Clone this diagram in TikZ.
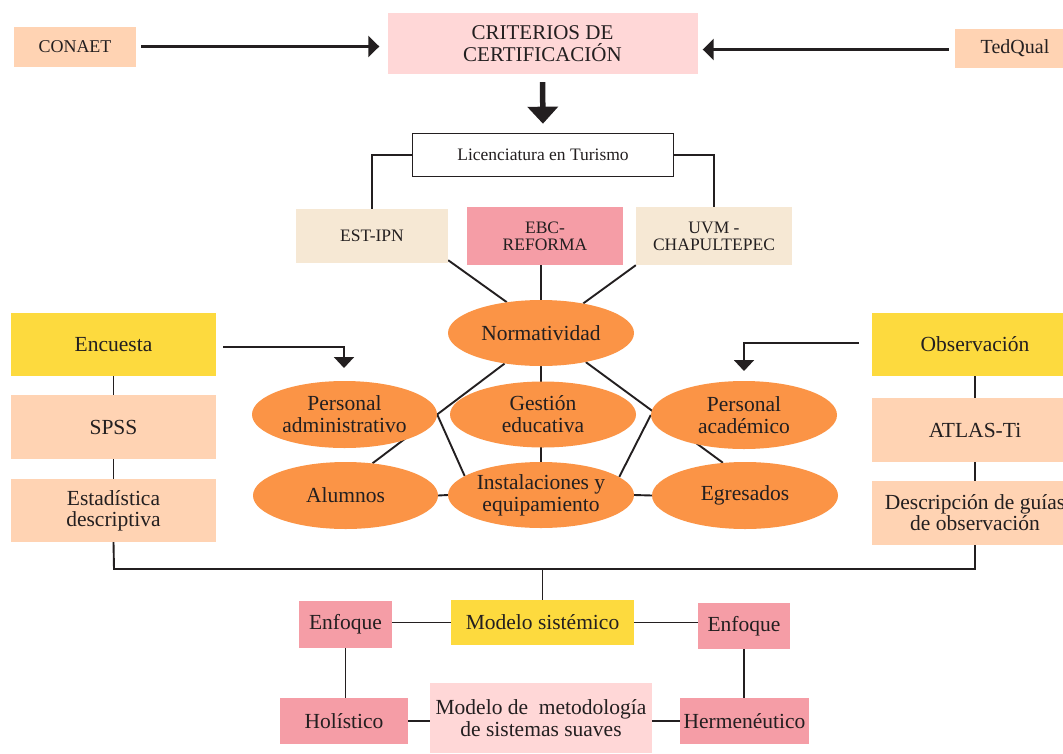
\documentclass[tikz,border=0pt]{standalone}
\usepackage{fontspec}
\setmainfont{Liberation Serif}
\usetikzlibrary{arrows.meta,shapes.geometric}
\pgfdeclarelayer{bg}
\pgfdeclarelayer{paper}
\pgfsetlayers{paper,bg,main}
\definecolor{peach}{HTML}{FFD3B3}
\definecolor{lpink}{HTML}{FFD7D7}
\definecolor{beige}{HTML}{F6E8D4}
\definecolor{pinkbox}{HTML}{F59DA6}
\definecolor{yell}{HTML}{FDDA3E}
\definecolor{orng}{HTML}{FB9446}
\definecolor{ink}{HTML}{231F20}
\newcommand{\myfs}[2]{\fontsize{#1}{#2}\selectfont}
\tikzset{
  pbox/.style={rectangle, inner sep=0pt, align=center, text=ink, draw=none},
  oval/.style={ellipse, fill=orng, inner sep=0pt, align=center, text=ink,
    minimum width=186pt, minimum height=66pt, font=\myfs{21.5}{22}},
  conn/.style={draw=ink, line width=1.9pt},
  bigarrow/.style={draw=ink, line width=3pt, -{Triangle[length=11pt,width=21pt]}},
  downarrow/.style={draw=ink, line width=5.5pt, -{Triangle[length=17pt,width=30pt]}},
  medarrow/.style={draw=ink, line width=2pt, -{Triangle[length=11pt,width=20pt]}},
}
\begin{document}
\begin{tikzpicture}[x=1pt,y=-1pt]
\path[use as bounding box, clip] (0,0) rectangle (1063,753);
\begin{pgfonlayer}{paper}
\fill[white] (0,0) rectangle (1063,753);
\end{pgfonlayer}

% top row
\node[pbox, fill=peach, minimum width=122pt, minimum height=40pt, font=\myfs{18}{20}] (conaet) at (75,46.5) {CONAET};
\node[pbox, fill=lpink, minimum width=310pt, minimum height=61pt, font=\myfs{21}{22}] (crit) at (542.5,43.5) {CRITERIOS DE\\CERTIFICACIÓN};
\node[pbox, fill=peach, minimum width=120pt, minimum height=39pt, font=\myfs{20}{22}] (tedq) at (1015,48.5) {TedQual};

\node[pbox, draw=ink, line width=1.6pt, fill=white, minimum width=261pt, minimum height=43pt, font=\myfs{17.5}{19}] (lic) at (543,155) {Licenciatura en Turismo};

\node[pbox, fill=beige, minimum width=152pt, minimum height=54pt, font=\myfs{17.5}{19}] (est) at (372,236) {EST-IPN};
\node[pbox, fill=pinkbox, minimum width=156pt, minimum height=58pt, font=\myfs{17.5}{17}] (ebc) at (545,236) {EBC-\\REFORMA};
\node[pbox, fill=beige, minimum width=156pt, minimum height=58pt, font=\myfs{17.5}{17}] (uvm) at (714,236) {UVM -\\CHAPULTEPEC};

% left column
\node[pbox, fill=yell, minimum width=205pt, minimum height=63pt, font=\myfs{21.5}{22}] (enc) at (113.5,344.5) {Encuesta};
\node[pbox, fill=peach, minimum width=205pt, minimum height=64pt, font=\myfs{21.5}{22}] (spss) at (113.5,427) {SPSS};
\node[pbox, fill=peach, minimum width=205pt, minimum height=63pt, font=\myfs{21.5}{21}] (estad) at (113.5,510.5) {Estadística\\descriptiva};

% right column
\node[pbox, fill=yell, minimum width=206pt, minimum height=63pt, font=\myfs{21.5}{22}] (obs) at (975,344.5) {Observación};
\node[pbox, fill=peach, minimum width=206pt, minimum height=64pt, font=\myfs{21.5}{22}] (atlas) at (975,430) {ATLAS-Ti};
\node[pbox, fill=peach, minimum width=206pt, minimum height=64pt, font=\myfs{21.5}{21}] (desc) at (975,513) {Descripción de guías\\de observación};

% ellipses
\node[oval] (norm) at (541,333) {Normatividad};
\node[oval] (gest) at (543,414.5) {Gestión\\educativa};
\node[oval] (inst) at (541,495) {Instalaciones y\\equipamiento};
\node[oval, minimum width=185pt, minimum height=67pt] (padm) at (344.5,414.5) {Personal\\administrativo};
\node[oval, minimum width=185pt, minimum height=67pt] (alum) at (345.5,495.5) {Alumnos};
\node[oval, minimum height=68pt] (pac) at (744,415) {Personal\\académico};
\node[oval, minimum height=67pt] (egr) at (745,495.5) {Egresados};

% bottom
\node[pbox, fill=pinkbox, minimum width=93pt, minimum height=47pt, font=\myfs{21.5}{22}] (enfL) at (345.5,624.5) {Enfoque};
\node[pbox, fill=yell, minimum width=183pt, minimum height=45pt, font=\myfs{21.5}{22}] (model) at (542.5,622.5) {Modelo sistémico};
\node[pbox, fill=pinkbox, minimum width=92pt, minimum height=46pt, font=\myfs{21.5}{22}] (enfR) at (744,626) {Enfoque};
\node[pbox, fill=pinkbox, minimum width=128pt, minimum height=46pt, font=\myfs{21.5}{22}] (hol) at (344,721) {Holístico};
\node[pbox, fill=lpink, minimum width=222pt, minimum height=70pt, font=\myfs{21.5}{22}] (mms) at (541,718) {Modelo de\ \ metodología\\de sistemas suaves};
\node[pbox, fill=pinkbox, minimum width=129pt, minimum height=46pt, font=\myfs{21.5}{22}] (herm) at (744.5,721) {Hermenéutico};

\coordinate (encTip) at (344,368);
\coordinate (obsTip) at (744,371);
\coordinate (busL) at (114,569);
\coordinate (busR) at (975,569);

% arrows
\draw[bigarrow, shorten <=5pt, shorten >=8pt] (conaet.east) -- (conaet.east -| crit.west);
\draw[bigarrow, shorten <=6pt, shorten >=5pt] ([yshift=-1pt]tedq.west) -- ([yshift=-1pt]tedq.west -| crit.east);
\draw[downarrow, shorten <=8pt, shorten >=9pt] (crit.south) -- (lic.north);
\draw[medarrow, shorten <=7pt] ([yshift=-2.5pt]enc.east) -| (encTip);
\draw[medarrow, shorten <=13pt] ([yshift=1.5pt]obs.west) -| (obsTip);

\begin{pgfonlayer}{bg}
\draw[conn] (lic.west) -| (est.north);
\draw[conn] (lic.east) -| (uvm.north);
\draw[conn] ([shift={(0pt,3pt)}]est.south east) -- (norm.138);
\draw[conn] (uvm.south west) -- (norm.35);
\draw[conn] (ebc.south -| norm.north) -- (inst.north);
\draw[conn] (norm.220) -- (alum.50);
\draw[conn] (norm.-33) -- (egr.124);
\draw[conn] (padm.east) -- (inst.166);
\draw[conn] (pac.west) -- (inst.13);
\draw[conn] (alum.east) -- (inst.west);
\draw[conn] (inst.east) -- (egr.west);
\draw[conn] (enc.south) -- (spss.north);
\draw[conn] (spss.south) -- (estad.north);
\draw[conn] (obs.south) -- (atlas.north);
\draw[conn] (atlas.south) -- (desc.north);
\draw[conn] (estad.south) -- (busL) -- (busR) -- (desc.south);
\draw[conn] (model.north |- busL) -- (model.north);
\draw[conn] (enfL.east |- model.west) -- (model.west);
\draw[conn] (model.east) -- (model.east -| enfR.west);
\draw[conn] (enfL.south) -- (enfL.south |- hol.north);
\draw[conn] (enfR.south) -- (enfR.south |- herm.north);
\draw[conn] ([yshift=-3pt]hol.east |- mms.east) -- ([yshift=-3pt]mms.west);
\draw[conn] ([yshift=-3pt]mms.east) -- ([yshift=-3pt]herm.west |- mms.east);
\end{pgfonlayer}
\end{tikzpicture}
\end{document}
